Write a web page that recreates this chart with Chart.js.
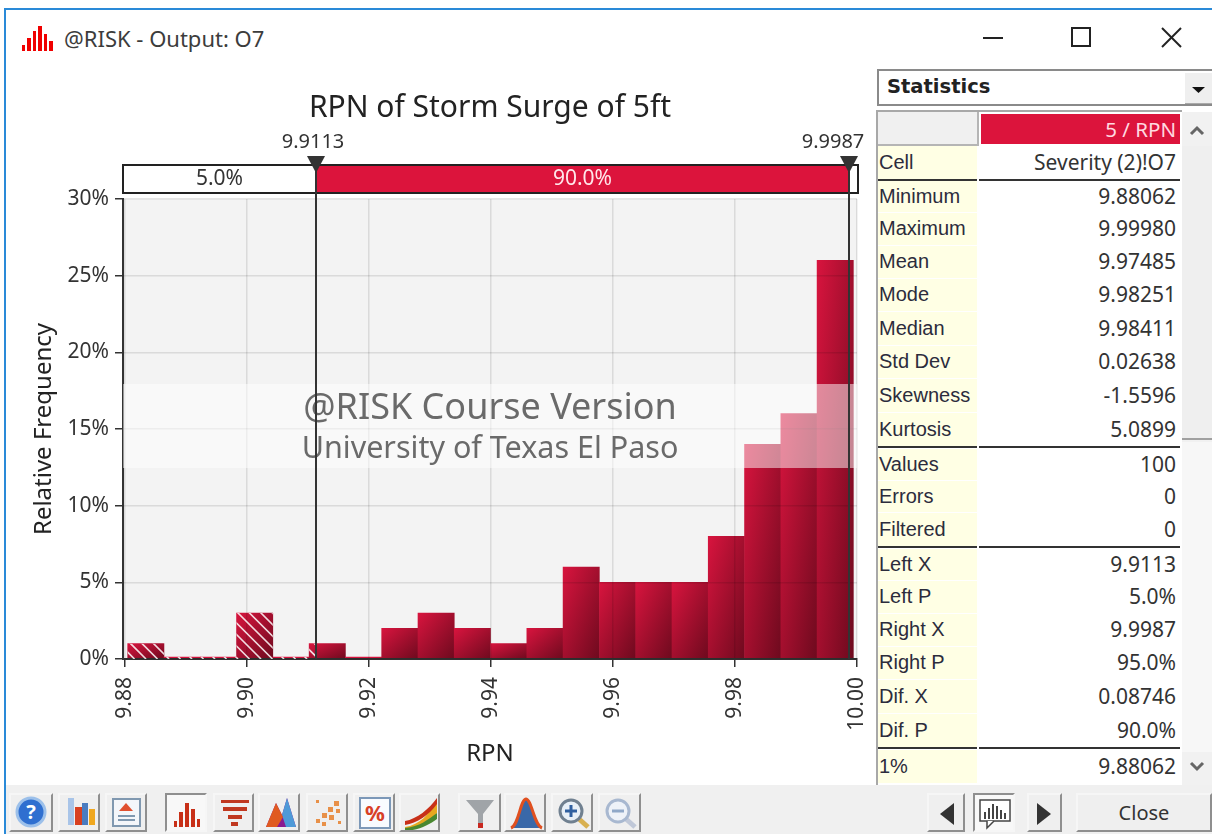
<!DOCTYPE html>
<html>
<head>
<meta charset="utf-8">
<title>@RISK - Output: O7</title>
<script src="https://cdn.jsdelivr.net/npm/chart.js@4"></script>
<style>
html, body { margin: 0; padding: 0; background: #fff; }
body { width: 1212px; height: 834px; position: relative; overflow: hidden; font-family: "Noto Sans", sans-serif; color: #222; }
.abs { position: absolute; }
#frameTop { left: 4px; top: 8px; width: 1208px; height: 2px; background: #2a8ad8; }
#frameLeft { left: 4px; top: 8px; width: 2px; height: 826px; background: #2a8ad8; }
#winTitle { left: 64px; top: 24px; font-size: 22px; line-height: 28px; color: #3c3c3c; }
#chartBox { left: 8px; top: 60px; width: 864px; height: 725px; }
#toolbar { left: 6px; top: 785px; width: 1206px; height: 49px; background: #f0f0f0; }
.btn { position: absolute; top: 793px; height: 39px; box-sizing: border-box; background: #efefef;
       border: 2px solid; border-color: #f6f6f6 #8f8f8f #8f8f8f #f6f6f6; }
.btn.on { border-color: #8f8f8f #f6f6f6 #f6f6f6 #8f8f8f; background: #f8f8f8; }
.btn svg { display: block; width: 100%; height: 100%; }
#closeBtn { font-size: 20px; line-height: 35px; text-align: center; color: #333; }
#statsHead { left: 877px; top: 69px; width: 335px; height: 37px; box-sizing: border-box; border: 2px solid #8a8a8a; border-right: 0; }
#statsHead b { position: absolute; left: 8px; top: 1px; font-family: "DejaVu Sans", sans-serif; font-size: 19.5px; line-height: 30px; }
#dropBtn { position: absolute; right: 0; top: 2px; width: 27px; height: 30px; background: #efefef; border-bottom: 1px solid #aaa; }
#statsLeft { left: 876px; top: 110px; width: 2px; height: 675px; background: #a8a8a8; }
#statsTop { left: 876px; top: 110px; width: 306px; height: 2px; background: #a8a8a8; }
#cornerCell { left: 878px; top: 112px; width: 99px; height: 32px; background: #f0f0f0; border-bottom: 2px solid #b5b5b5; border-right: 2px solid #b5b5b5; }
#headCell { left: 981px; top: 114px; width: 199px; height: 30px; background: #dc143c; color: #ffd9e0; font-size: 20.5px; line-height: 31px; text-align: right; box-sizing: border-box; padding-right: 4px; }
.lab { position: absolute; left: 878px; width: 99px; background: #ffffe4; box-sizing: border-box; padding-left: 1px; font-family: "Liberation Sans", sans-serif; font-size: 20px; color: #2c2c3c; white-space: nowrap; }
.val { position: absolute; left: 979px; width: 201px; background: #fff; box-sizing: border-box; padding-right: 4px; text-align: right; font-size: 21px; color: #333; white-space: nowrap; }
.sep { position: absolute; left: 878px; width: 302px; height: 2px; background: #333; }
.sep i { position: absolute; left: 99px; width: 2px; height: 2px; background: #fff; }
#scrollTrack { left: 1182px; top: 112px; width: 30px; height: 673px; background: #f1f1f1; }
#scrollThumb { left: 1182px; top: 146px; width: 30px; height: 294px; background: #efefef; border-bottom: 2px solid #a0a0a0; box-sizing: border-box; }
#scrollDots { left: 1182px; top: 442px; width: 30px; height: 310px; background: #f7f7f7; }
</style>
</head>
<body>
<div class="abs" id="frameTop"></div>
<div class="abs" id="frameLeft"></div>

<svg class="abs" style="left:21px;top:25px" width="33" height="27" viewBox="0 0 33 27">
  <g fill="#f00000"><rect x="1" y="20" width="3" height="6"/><rect x="6" y="13" width="4" height="13"/><rect x="12" y="6" width="3" height="20"/><rect x="17" y="1" width="4" height="25"/><rect x="23" y="9" width="3" height="17"/><rect x="28" y="16" width="4" height="10"/></g>
</svg>
<div class="abs" id="winTitle">@RISK - Output: O7</div>
<svg class="abs" style="left:980px;top:24px" width="210" height="26" viewBox="0 0 210 26">
  <g fill="none" stroke="#222" stroke-width="2">
    <line x1="3" y1="14" x2="23" y2="14"/>
    <rect x="92" y="4" width="18" height="18"/>
    <line x1="182" y1="4" x2="201" y2="23"/><line x1="201" y1="4" x2="182" y2="23"/>
  </g>
</svg>

<div class="abs" id="chartBox"><canvas id="histChart" width="864" height="725"></canvas></div>

<div class="abs" id="statsHead"><b>Statistics</b><div id="dropBtn"><svg width="27" height="30"><path d="M7 14h13l-6.5 6z" fill="#111"/></svg></div></div>
<div class="abs" id="statsLeft"></div>
<div class="abs" id="statsTop"></div>
<div class="abs" id="scrollTrack"></div>
<div class="abs" id="scrollThumb"></div>
<div class="abs" id="scrollDots"></div>
<svg class="abs" style="left:1182px;top:120px" width="30" height="20"><path d="M9 14l6-6 6 6" fill="none" stroke="#666" stroke-width="3"/></svg>
<svg class="abs" style="left:1182px;top:757px" width="30" height="20"><path d="M9 6l6 6 6-6" fill="none" stroke="#666" stroke-width="3"/></svg>
<div class="abs" id="cornerCell"></div>
<div class="abs" id="headCell">5 / RPN</div>
<div id="statsRows"></div>

<div class="abs" id="toolbar"></div>
<div id="tools"></div>

<script>
var binCenters = [9.88344, 9.88939, 9.89533, 9.90128, 9.90723, 9.91318, 9.91912, 9.92507, 9.93102, 9.93696,
                  9.94291, 9.94886, 9.95480, 9.96075, 9.96670, 9.97265, 9.97859, 9.98454, 9.99049, 9.99643];
var binPercents = [1, 0, 0, 3, 0, 1, 0, 2, 3, 2, 1, 2, 6, 5, 5, 5, 8, 14, 16, 26];
var xTickValues = [9.88, 9.90, 9.92, 9.94, 9.96, 9.98, 10.00];
var yTickValues = [0, 5, 10, 15, 20, 25, 30];
var leftX = 9.9113;
var rightX = 9.9987;
var statLabels = ['Cell', 'Minimum', 'Maximum', 'Mean', 'Mode', 'Median', 'Std Dev', 'Skewness', 'Kurtosis',
                  'Values', 'Errors', 'Filtered', 'Left X', 'Left P', 'Right X', 'Right P', 'Dif. X', 'Dif. P', '1%'];
var statValues = ['Severity (2)!O7', '9.88062', '9.99980', '9.97485', '9.98251', '9.98411', '0.02638', '-1.5596', '5.0899',
                  '100', '0', '0', '9.9113', '5.0%', '9.9987', '95.0%', '0.08746', '90.0%', '9.88062'];
var statTops = [146, 181, 213, 246, 279, 312, 346, 379, 413, 449, 481, 513, 549, 581, 614, 647, 680, 714, 750];
var statSeps = [179, 446, 546, 747];

var FONT = '"Noto Sans", sans-serif';

// statistics grid
var rows = document.getElementById('statsRows');
statLabels.forEach(function(name, i) {
    var next = i + 1 < statTops.length ? statTops[i + 1] : 784;
    var h = next - statTops[i] - 1;
    if (statSeps.indexOf(next - 2) >= 0 || statSeps.indexOf(next - 3) >= 0) h = next - statTops[i] - 2;
    var lab = document.createElement('div');
    lab.className = 'lab';
    lab.style.top = statTops[i] + 'px';
    lab.style.height = h + 'px';
    lab.style.lineHeight = (h - 1) + 'px';
    lab.textContent = name;
    var val = document.createElement('div');
    val.className = 'val';
    val.style.top = statTops[i] + 'px';
    val.style.height = h + 'px';
    val.style.lineHeight = (h - 1) + 'px';
    val.textContent = statValues[i];
    rows.appendChild(lab);
    rows.appendChild(val);
});
statSeps.forEach(function(y) {
    var s = document.createElement('div');
    s.className = 'sep';
    s.style.top = y + 'px';
    s.innerHTML = '<i></i>';
    rows.appendChild(s);
});

// toolbar buttons, left edge / right edge / icon
var toolIcons = [
    [9, 53, '<circle cx="20" cy="17" r="14" fill="#2f6fd0" stroke="#9cc0ea" stroke-width="3"/><text x="20" y="24" font-size="20" font-weight="bold" fill="#fff" text-anchor="middle">?</text>'],
    [58, 100, '<rect x="8" y="3" width="6" height="27" fill="#a8c4e8"/><rect x="15" y="12" width="7" height="18" fill="#d84020"/><rect x="22" y="8" width="6" height="22" fill="#4a7cc0"/><rect x="29" y="14" width="6" height="16" fill="#f0a820"/>'],
    [105, 147, '<rect x="6" y="4" width="27" height="27" fill="#f4f6fa" stroke="#8098b0" stroke-width="2"/><path d="M12 16l7-8 7 8z" fill="#e05030"/><path d="M11 21h17M11 25h17" stroke="#8098b0" stroke-width="2"/>'],
    [165, 207, '<g fill="#c83018"><rect x="7" y="26" width="3" height="6"/><rect x="12" y="17" width="4" height="15"/><rect x="18" y="8" width="4" height="24"/><rect x="24" y="14" width="4" height="18"/><rect x="30" y="24" width="3" height="8"/></g>'],
    [213, 254, '<g fill="#c03820"><rect x="6" y="5" width="28" height="3"/><rect x="8" y="12" width="24" height="4"/><rect x="13" y="20" width="14" height="4"/><rect x="16" y="27" width="7" height="4"/></g>'],
    [258, 300, '<path d="M6 32L16 8l6 12 5-17 9 29z" fill="#8a1a90"/><path d="M22 20L27 3l9 29H26z" fill="#4e9ad8"/><path d="M6 32L16 8l7 14-6 10z" fill="#e05a20"/>'],
    [306, 348, '<g fill="#e89048"><rect x="8" y="24" width="4" height="4"/><rect x="14" y="18" width="5" height="5"/><rect x="20" y="12" width="5" height="5"/><rect x="26" y="6" width="5" height="5"/><rect x="14" y="27" width="4" height="4"/><rect x="21" y="20" width="5" height="5"/><rect x="28" y="14" width="4" height="4"/><rect x="8" y="5" width="3" height="3"/><rect x="30" y="26" width="3" height="3"/></g>'],
    [353, 395, '<rect x="5" y="3" width="30" height="30" fill="#f8fbff" stroke="#7c98b8" stroke-width="2"/><text x="20" y="26" font-size="22" font-weight="bold" fill="#d84028" text-anchor="middle">%</text>'],
    [399, 440, '<path d="M4 32C18 30 28 20 36 5v13C28 28 18 33 4 35z" fill="#e8a820"/><path d="M4 26C16 24 28 14 36 3v6C28 20 16 28 4 30z" fill="#c83018"/><path d="M4 33C18 32 28 24 36 18v6C28 30 18 35 4 36z" fill="#4a8830"/>'],
    [458, 501, '<path d="M6 5h28L23 19v13h-5V19z" fill="#a0a4a8"/><rect x="18" y="28" width="5" height="5" fill="#c82820"/>'],
    [504, 546, '<path d="M5 33C13 30 14 5 20 4c6 1 8 26 16 29z" fill="#3a68a8"/><path d="M5 33C13 30 14 5 20 4c6 1 8 26 16 29" fill="none" stroke="#e05020" stroke-width="3"/>'],
    [551, 593, '<path d="M26 24l9 8" stroke="#d8b050" stroke-width="5"/><circle cx="18" cy="16" r="11" fill="#e8f0f8" stroke="#708090" stroke-width="3"/><path d="M12 16h12M18 10v12" stroke="#3060a0" stroke-width="3"/>'],
    [598, 641, '<path d="M26 24l9 8" stroke="#c0c8d8" stroke-width="5"/><circle cx="18" cy="16" r="11" fill="#eef2f8" stroke="#a8b8d0" stroke-width="3"/><path d="M12 16h12" stroke="#90a8c8" stroke-width="3"/>'],
    [927, 965, '<path d="M25 8v22L11 19z" fill="#333"/>'],
    [973, 1015, '<rect x="5" y="5" width="30" height="21" fill="#fff" stroke="#444" stroke-width="1.5"/><path d="M12 26v7l7-7" fill="#fff" stroke="#444" stroke-width="1.5"/><g fill="#444"><rect x="9" y="17" width="2" height="7"/><rect x="13" y="13" width="2" height="11"/><rect x="17" y="9" width="2" height="15"/><rect x="21" y="11" width="2" height="13"/><rect x="25" y="15" width="2" height="9"/><rect x="29" y="18" width="2" height="6"/></g>']
];
var toolBox = document.getElementById('tools');
toolIcons.forEach(function(t, i) {
    var b = document.createElement('div');
    b.className = 'btn' + (i === 3 || i === 14 ? ' on' : '');
    b.style.left = t[0] + 'px';
    b.style.width = (t[1] - t[0]) + 'px';
    b.innerHTML = '<svg viewBox="0 0 ' + (t[1] - t[0] - 4) + ' 35">' + t[2] + '</svg>';
    toolBox.appendChild(b);
});
var nextBtn = document.createElement('div');
nextBtn.className = 'btn';
nextBtn.style.left = '1027px';
nextBtn.style.width = '35px';
nextBtn.innerHTML = '<svg viewBox="0 0 31 35"><path d="M8 8v22l14-11z" fill="#333"/></svg>';
toolBox.appendChild(nextBtn);
var closeBtn = document.createElement('div');
closeBtn.className = 'btn';
closeBtn.id = 'closeBtn';
closeBtn.style.left = '1076px';
closeBtn.style.width = '136px';
closeBtn.textContent = 'Close';
toolBox.appendChild(closeBtn);

// corner to corner shading, so top right and bottom left get the same mid tone
function barGradient(c) {
    var i = c.dataIndex;
    if (i === undefined || !c.chart.chartArea) return '#c8143c';
    var sx = c.chart.scales.x, sy = c.chart.scales.y;
    var half = 0.00297;
    var x0 = sx.getPixelForValue(binCenters[i] - half);
    var x1 = sx.getPixelForValue(binCenters[i] + half);
    var y0 = sy.getPixelForValue(binPercents[i]);
    var y1 = Math.max(sy.getPixelForValue(0), y0 + 2);
    var w = x1 - x0, h = y1 - y0;
    var diag = Math.sqrt(w * w + h * h);
    var dx = h / diag, dy = w / diag;
    var len = w * h / diag;
    var mx = (x0 + x1) / 2, my = (y0 + y1) / 2;
    var g = c.chart.ctx.createLinearGradient(mx - dx * len, my - dy * len, mx + dx * len, my + dy * len);
    g.addColorStop(0, '#d8143e');
    g.addColorStop(1, '#6e0a1e');
    return g;
}

// plot background, sits under the bars
var plotBack = {
    id: 'plotBack',
    beforeDraw: function(chart) {
        var a = chart.chartArea;
        chart.ctx.fillStyle = '#f3f3f3';
        chart.ctx.fillRect(a.left, a.top, a.right - a.left, a.bottom - a.top);
    }
};

// hatching on the bars left of the left delimiter, watermark and delimiters on top
var overlays = {
    id: 'overlays',
    afterDraw: function(chart) {
        var ctx = chart.ctx, a = chart.chartArea, sx = chart.scales.x;
        var lx = Math.round(sx.getPixelForValue(leftX));
        var rx = Math.round(sx.getPixelForValue(rightX));

        ctx.save();
        ctx.beginPath();
        chart.getDatasetMeta(0).data.forEach(function(bar) {
            var x0 = bar.x - bar.width / 2, x1 = Math.min(bar.x + bar.width / 2, lx);
            if (x1 > x0) ctx.rect(x0, bar.y, x1 - x0, a.bottom - bar.y);
        });
        ctx.clip();
        ctx.strokeStyle = 'rgba(255,255,255,.85)';
        ctx.lineWidth = 1.6;
        ctx.beginPath();
        for (var h = a.left - 60; h < lx + 10; h += 11.5) {
            ctx.moveTo(h, a.bottom - 60);
            ctx.lineTo(h + 60, a.bottom);
        }
        ctx.stroke();
        ctx.restore();

        // watermark band
        ctx.save();
        ctx.fillStyle = 'rgba(255,255,255,.5)';
        ctx.fillRect(a.left, 324, a.right - a.left, 84);
        ctx.textAlign = 'center';
        ctx.textBaseline = 'middle';
        ctx.fillStyle = '#6a6a6a';
        ctx.font = '36px ' + FONT;
        ctx.fillText('@RISK Course Version', 482, 349);
        ctx.font = '30.5px ' + FONT;
        ctx.fillText('University of Texas El Paso', 482, 389);
        ctx.restore();

        // delimiter strip
        var top = 105, bot = 133;
        ctx.save();
        ctx.fillStyle = '#fff';
        ctx.fillRect(a.left, top, a.right - a.left + 1, bot - top);
        ctx.fillStyle = '#dc143c';
        ctx.fillRect(lx, top, rx - lx, bot - top);
        ctx.strokeStyle = '#222';
        ctx.lineWidth = 2;
        ctx.strokeRect(a.left, top, a.right - a.left + 1, bot - top);
        ctx.textAlign = 'center';
        ctx.textBaseline = 'middle';
        ctx.font = '21px ' + FONT;
        ctx.fillStyle = '#333';
        ctx.fillText('5.0%', (a.left + lx) / 2, top + 14);
        ctx.fillStyle = '#ffe6ea';
        ctx.fillText('90.0%', (lx + rx) / 2, top + 14);

        ctx.font = '20px ' + FONT;
        [[lx, '9.9113', -3], [rx, '9.9987', -16]].forEach(function(m) {
            ctx.strokeStyle = '#333';
            ctx.lineWidth = 2;
            ctx.beginPath();
            ctx.moveTo(m[0], top);
            ctx.lineTo(m[0], a.bottom);
            ctx.stroke();
            ctx.fillStyle = '#333';
            ctx.beginPath();
            ctx.moveTo(m[0] - 9, 96);
            ctx.lineTo(m[0] + 9, 96);
            ctx.lineTo(m[0], 113);
            ctx.closePath();
            ctx.fill();
            ctx.fillText(m[1], m[0] + m[2], 82);
        });
        ctx.restore();
    }
};

new Chart(document.getElementById('histChart').getContext('2d'), {
    type: 'bar',
    data: {
        datasets: [{
            data: binCenters.map(function(x, i) { return { x: x, y: binPercents[i] }; }),
            backgroundColor: barGradient,
            borderWidth: 0,
            barPercentage: 1,
            categoryPercentage: 1,
            minBarLength: 2
        }]
    },
    options: {
        responsive: false,
        animation: false,
        layout: { autoPadding: false, padding: { left: 0, top: 0, right: 15, bottom: 0 } },
        plugins: {
            legend: { display: false },
            tooltip: { enabled: false },
            title: {
                display: true,
                fullSize: false,
                text: 'RPN of Storm Surge of 5ft',
                color: '#222',
                font: { family: FONT, size: 30, weight: 'normal', lineHeight: 1.2 },
                padding: { top: 30, bottom: 73 }
            }
        },
        scales: {
            x: {
                type: 'linear',
                offset: false,
                min: 9.8797,
                max: 10.00,
                afterBuildTicks: function(scale) {
                    scale.ticks = xTickValues.map(function(v) { return { value: v }; });
                },
                afterFit: function(scale) {
                    scale.height = 126;
                    scale.paddingLeft = 0;
                    scale.paddingRight = 0;
                },
                grid: { offset: false, z: 1, color: 'rgba(0,0,0,.1)', tickColor: '#333', tickLength: 8, lineWidth: 1.5 },
                border: { z: 1, color: '#333', width: 2 },
                ticks: {
                    minRotation: 90,
                    maxRotation: 90,
                    autoSkip: false,
                    padding: 10,
                    color: '#333',
                    font: { family: FONT, size: 21 },
                    callback: function(v) { return v.toFixed(2); }
                },
                title: { display: true, text: 'RPN', color: '#222', font: { family: FONT, size: 24 }, padding: { top: 0, bottom: 16 } }
            },
            y: {
                min: 0,
                max: 30,
                afterBuildTicks: function(scale) {
                    scale.ticks = yTickValues.map(function(v) { return { value: v }; });
                },
                afterFit: function(scale) { scale.width = 115; },
                grid: { z: 1, color: 'rgba(0,0,0,.1)', tickColor: '#333', tickLength: 8, lineWidth: 1.5 },
                border: { z: 1, color: '#333', width: 2 },
                ticks: {
                    padding: 6,
                    color: '#333',
                    font: { family: FONT, size: 21 },
                    callback: function(v) { return v + '%'; }
                },
                title: { display: true, text: 'Relative Frequency', color: '#222', font: { family: FONT, size: 24 }, padding: { top: 22, bottom: 0 } }
            }
        }
    },
    plugins: [plotBack, overlays]
});
</script>
</body>
</html>
